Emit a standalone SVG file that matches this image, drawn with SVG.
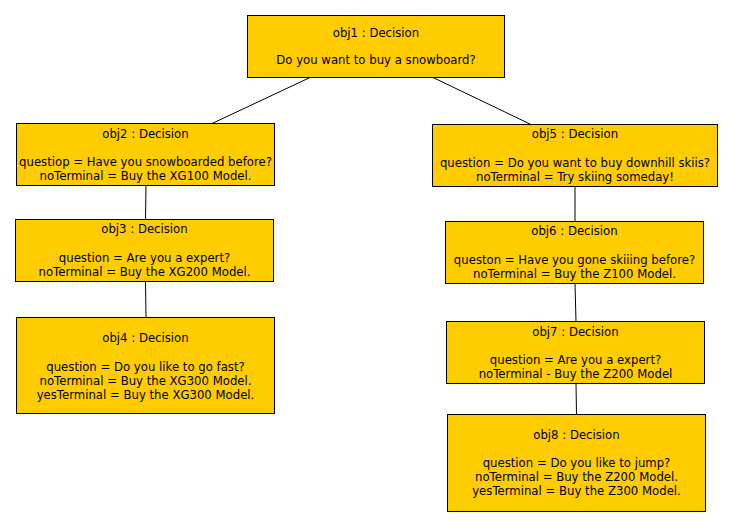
<svg xmlns="http://www.w3.org/2000/svg" width="733" height="527" viewBox="0 0 733 527">
<style>
.box{fill:#FFCC00;stroke:#000;stroke-width:1}
text{font-family:"DejaVu Sans","Liberation Sans",sans-serif;font-size:11.7px;fill:#000;text-anchor:middle}
.conn line{stroke:#000;stroke-width:1}
</style>
<rect width="733" height="527" fill="#fff"/>
<g class="conn" id="connectors">
<line x1="310" y1="77.5" x2="212" y2="123.5"/>
<line x1="433" y1="77.5" x2="531" y2="124.5"/>
<line x1="146" y1="185.5" x2="145.5" y2="219.5"/>
<line x1="145.5" y1="281.5" x2="146" y2="317.5"/>
<line x1="575" y1="186.5" x2="575" y2="221.5"/>
<line x1="575" y1="283.5" x2="576" y2="321.5"/>
<line x1="576" y1="383.5" x2="576.5" y2="414.5"/>
</g>
<g id="obj1">
<rect class="box" x="247.5" y="15.5" width="257" height="62"/>
<text x="376" y="37">obj1 : Decision</text>
<text x="376" y="64">Do you want to buy a snowboard?</text>
</g>
<g id="obj2">
<rect class="box" x="16.5" y="123.5" width="258" height="62"/>
<text x="145.5" y="137.5">obj2 : Decision</text>
<text x="145.5" y="166">questiop = Have you snowboarded before?</text>
<text x="145.5" y="180">noTerminal = Buy the XG100 Model.</text>
</g>
<g id="obj3">
<rect class="box" x="15.5" y="219.5" width="258" height="62"/>
<text x="144.5" y="232.5">obj3 : Decision</text>
<text x="144.5" y="262">question = Are you a expert?</text>
<text x="144.5" y="276">noTerminal = Buy the XG200 Model.</text>
</g>
<g id="obj4">
<rect class="box" x="16.5" y="317.5" width="258" height="96"/>
<text x="145.5" y="342">obj4 : Decision</text>
<text x="145.5" y="371">question = Do you like to go fast?</text>
<text x="145.5" y="385">noTerminal = Buy the XG300 Model.</text>
<text x="145.5" y="399">yesTerminal = Buy the XG300 Model.</text>
</g>
<g id="obj5">
<rect class="box" x="432.5" y="124.5" width="285" height="62"/>
<text x="575" y="137.5">obj5 : Decision</text>
<text x="575" y="166.5">question = Do you want to buy downhill skiis?</text>
<text x="575" y="180.5">noTerminal = Try skiing someday!</text>
</g>
<g id="obj6">
<rect class="box" x="445.5" y="221.5" width="258" height="62"/>
<text x="574.5" y="235">obj6 : Decision</text>
<text x="574.5" y="263.5">queston = Have you gone skiiing before?</text>
<text x="574.5" y="278">noTerminal = Buy the Z100 Model.</text>
</g>
<g id="obj7">
<rect class="box" x="446.5" y="321.5" width="258" height="62"/>
<text x="575.5" y="336">obj7 : Decision</text>
<text x="575.5" y="364">question = Are you a expert?</text>
<text x="575.5" y="377.5">noTerminal - Buy the Z200 Model</text>
</g>
<g id="obj8">
<rect class="box" x="447.5" y="414.5" width="258" height="97"/>
<text x="576.5" y="439">obj8 : Decision</text>
<text x="576.5" y="467">question = Do you like to jump?</text>
<text x="576.5" y="481">noTerminal = Buy the Z200 Model.</text>
<text x="576.5" y="495">yesTerminal = Buy the Z300 Model.</text>
</g>
</svg>
